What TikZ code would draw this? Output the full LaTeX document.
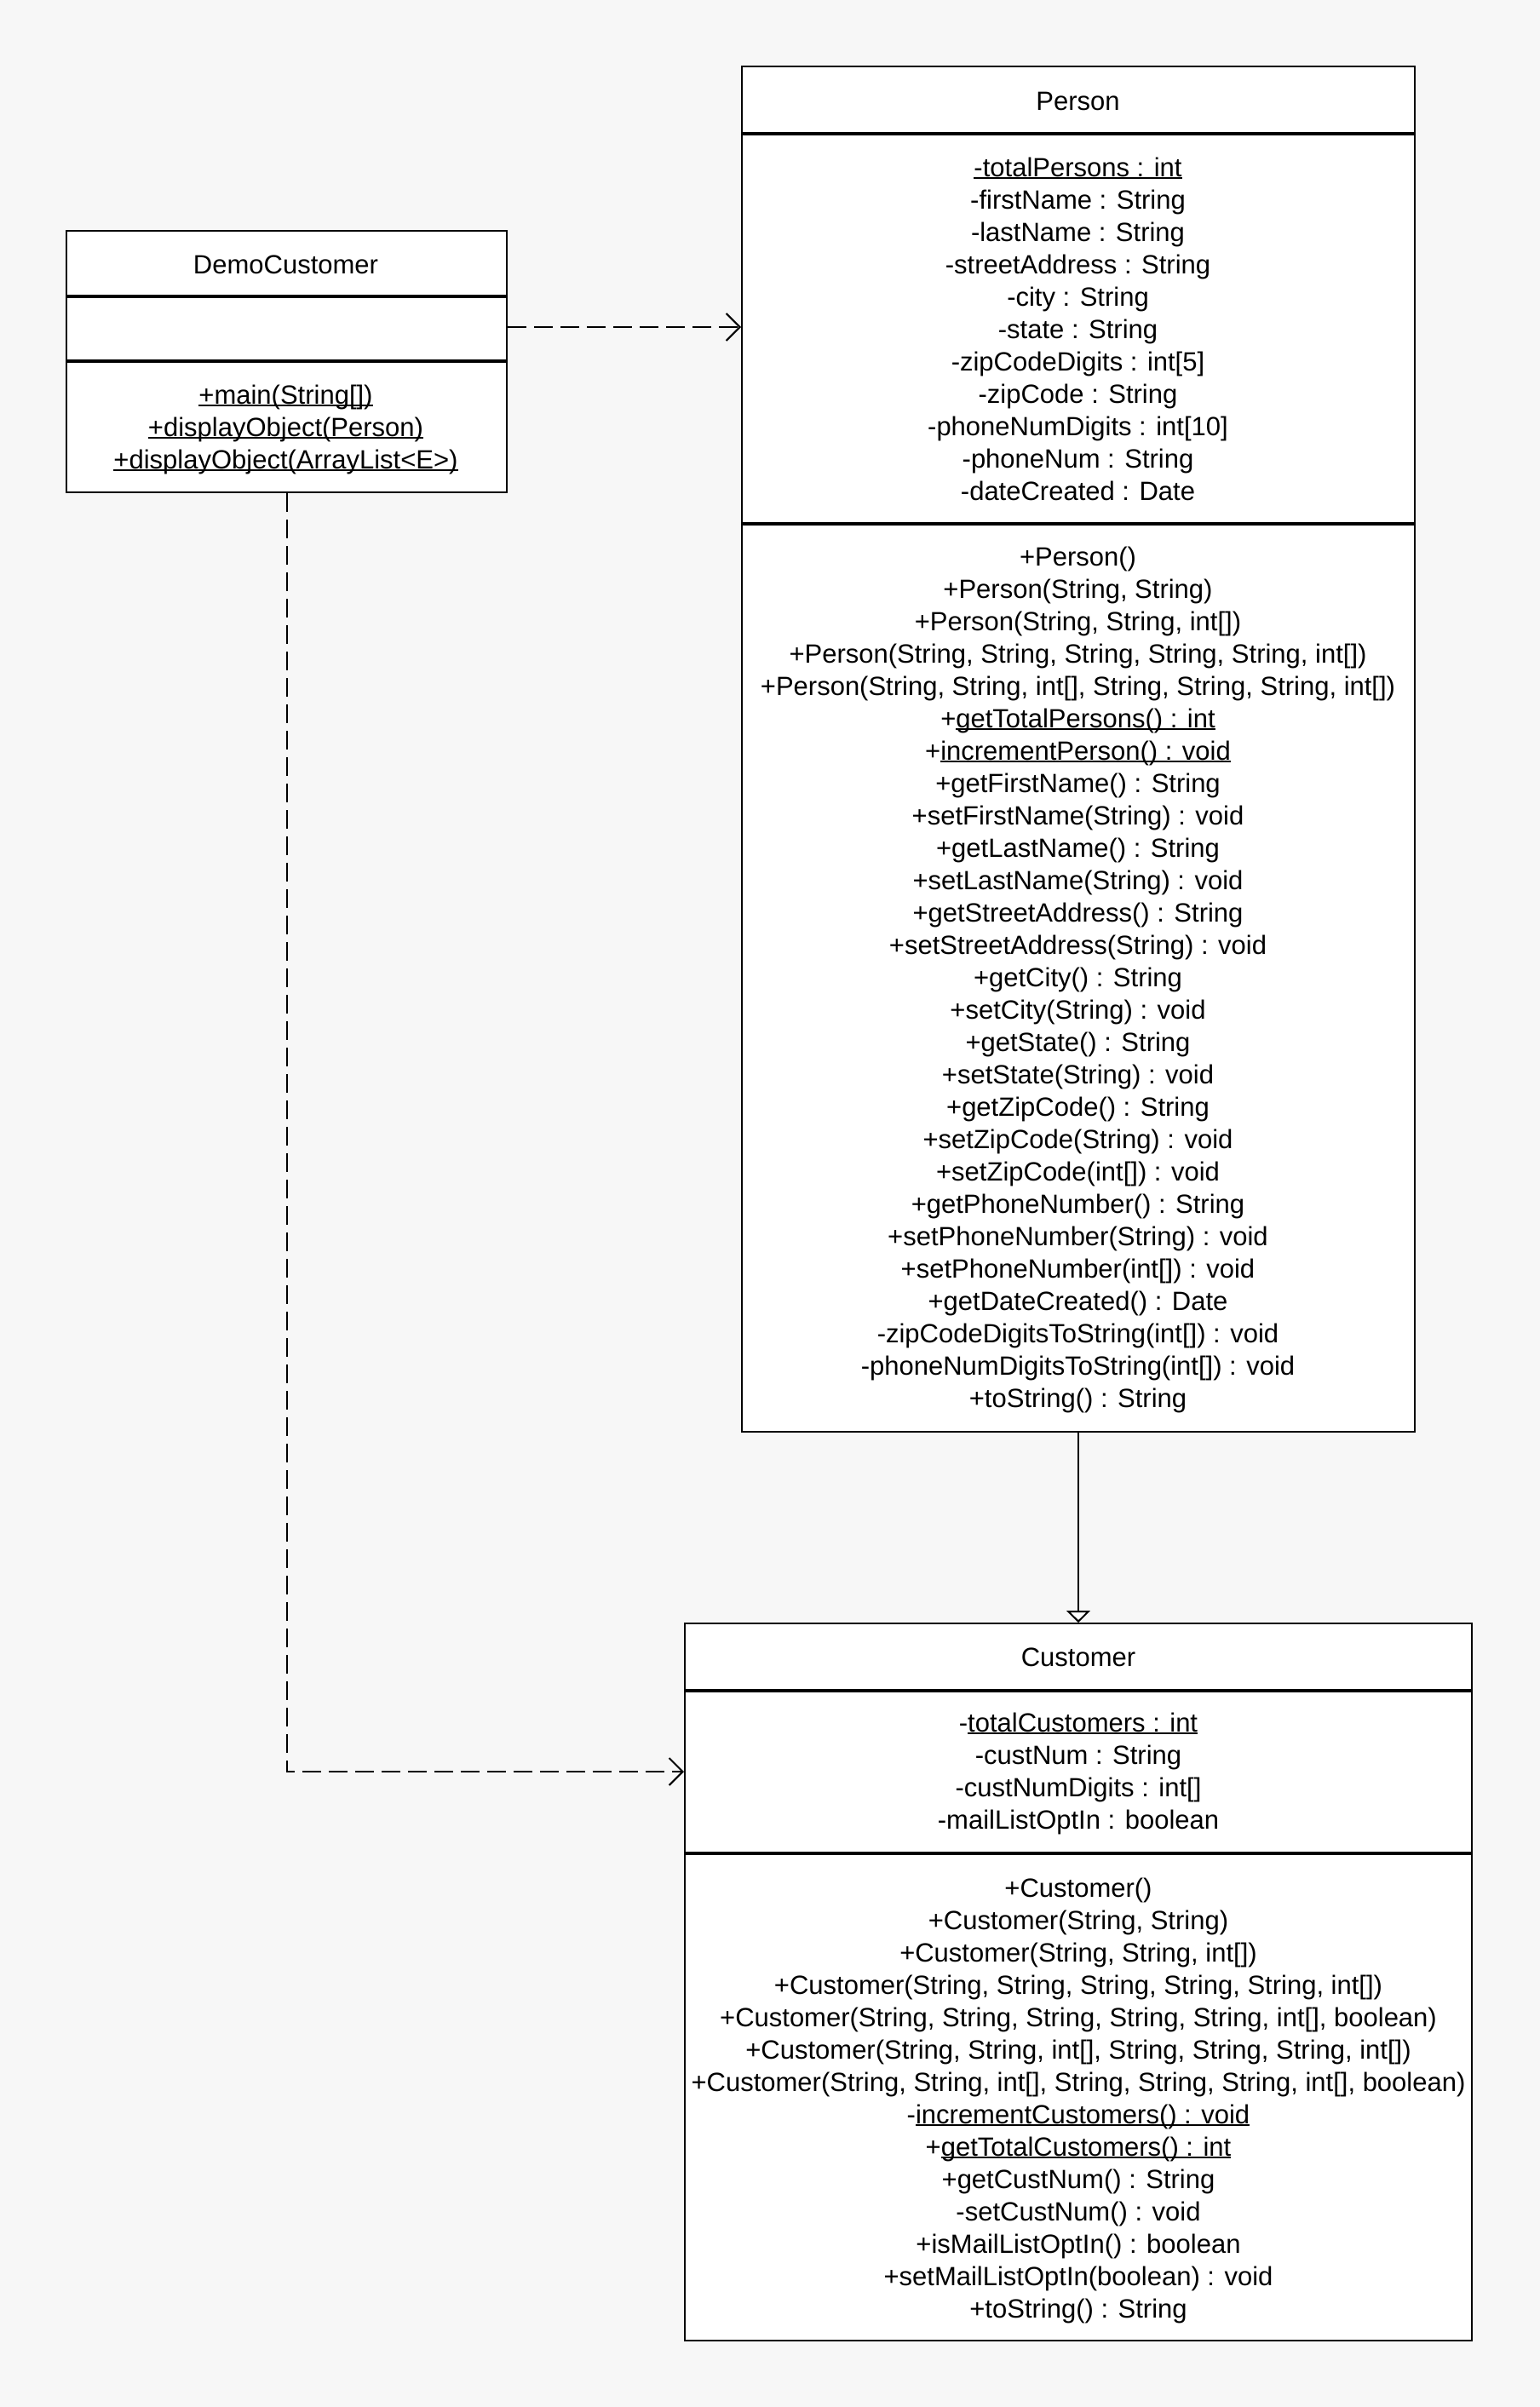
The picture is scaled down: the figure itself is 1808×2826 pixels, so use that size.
\documentclass[tikz,border=0pt]{standalone}
\usepackage{fontspec}
\setmainfont{Liberation Sans}
\usetikzlibrary{arrows.meta}
\definecolor{paper}{HTML}{F7F7F7}
% underline drawn just under the baseline, as for static members
\newcommand{\stat}[1]{\setbox0\hbox{#1}\rlap{\rule[-1.6pt]{\wd0}{0.9pt}}\box0}
\begin{document}
\begin{tikzpicture}[x=0.5pt,y=-0.5pt,
  classbox/.style={draw=black,fill=white,line width=1pt,inner sep=0pt,anchor=north west},
  divider/.style={line width=1.6pt},
  txt/.style={align=center,inner sep=0pt,font=\fontsize{15.5pt}{19pt}\selectfont},
  dep/.style={line width=1pt,dash pattern=on 11pt off 4.5pt,-{Straight Barb[length=8pt,width=16pt,line width=1pt]}},
  inh/.style={line width=1pt,-{Triangle[open,length=7pt,width=14pt,line width=1pt,fill=white]}}]
\fill[paper] (0,0) rectangle (1808,2826);
\useasboundingbox (0,0) rectangle (1808,2826);

% class boxes
\node[classbox,minimum width=258.5pt,minimum height=153.5pt] (demo) at (77,270) {};
\node[classbox,minimum width=395pt,minimum height=801.25pt] (person) at (870,77.5) {};
\node[classbox,minimum width=462pt,minimum height=421pt] (customer) at (803,1905) {};

% compartment separators
\draw[divider] (demo.west |- 0,348) -- (demo.east |- 0,348);
\draw[divider] (demo.west |- 0,424) -- (demo.east |- 0,424);
\draw[divider] (person.west |- 0,157) -- (person.east |- 0,157);
\draw[divider] (person.west |- 0,615) -- (person.east |- 0,615);
\draw[divider] (customer.west |- 0,1985) -- (customer.east |- 0,1985);
\draw[divider] (customer.west |- 0,2176) -- (customer.east |- 0,2176);

% DemoCustomer
\node[txt] (demoname) at (335.5,311) {DemoCustomer};
\node[txt] (demoops) at (335.5,504) {\stat{+main(String[])}\\
\stat{+displayObject(Person)}\\
\stat{+displayObject(ArrayList<E>)}};

% Person
\node[txt] (personname) at (1265.5,119) {Person};
\node[txt] (personattrs) at (1265.5,386) {\stat{-totalPersons : int}\\
-firstName : String\\
-lastName : String\\
-streetAddress : String\\
-city : String\\
-state : String\\
-zipCodeDigits : int[5]\\
-zipCode : String\\
-phoneNumDigits : int[10]\\
-phoneNum : String\\
-dateCreated : Date};
\node[txt] (personops) at (1265.5,1150) {+Person()\\
+Person(String, String)\\
+Person(String, String, int[])\\
+Person(String, String, String, String, String, int[])\\
+Person(String, String, int[], String, String, String, int[])\\
+\stat{getTotalPersons() : int}\\
+\stat{incrementPerson() : void}\\
+getFirstName() : String\\
+setFirstName(String) : void\\
+getLastName() : String\\
+setLastName(String) : void\\
+getStreetAddress() : String\\
+setStreetAddress(String) : void\\
+getCity() : String\\
+setCity(String) : void\\
+getState() : String\\
+setState(String) : void\\
+getZipCode() : String\\
+setZipCode(String) : void\\
+setZipCode(int[]) : void\\
+getPhoneNumber() : String\\
+setPhoneNumber(String) : void\\
+setPhoneNumber(int[]) : void\\
+getDateCreated() : Date\\
-zipCodeDigitsToString(int[]) : void\\
-phoneNumDigitsToString(int[]) : void\\
+toString() : String};

% Customer
\node[txt] (customername) at (1266,1946) {Customer};
\node[txt] (customerattrs) at (1266,2082) {-\stat{totalCustomers : int}\\
-custNum : String\\
-custNumDigits : int[]\\
-mailListOptIn : boolean};
\node[txt] (customerops) at (1266,2466) {+Customer()\\
+Customer(String, String)\\
+Customer(String, String, int[])\\
+Customer(String, String, String, String, String, int[])\\
+Customer(String, String, String, String, String, int[], boolean)\\
+Customer(String, String, int[], String, String, String, int[])\\
+Customer(String, String, int[], String, String, String, int[], boolean)\\
-\stat{incrementCustomers() : void}\\
+\stat{getTotalCustomers() : int}\\
+getCustNum() : String\\
-setCustNum() : void\\
+isMailListOptIn() : boolean\\
+setMailListOptIn(boolean) : void\\
+toString() : String};

% relationships
\draw[dep] (demo.east |- 0,384) -- (person.west |- 0,384);
\draw[dep] (demo.south) |- (customer.west |- 0,2080);
\draw[inh] (person.south) -- (person.south |- customer.north);
\end{tikzpicture}
\end{document}
